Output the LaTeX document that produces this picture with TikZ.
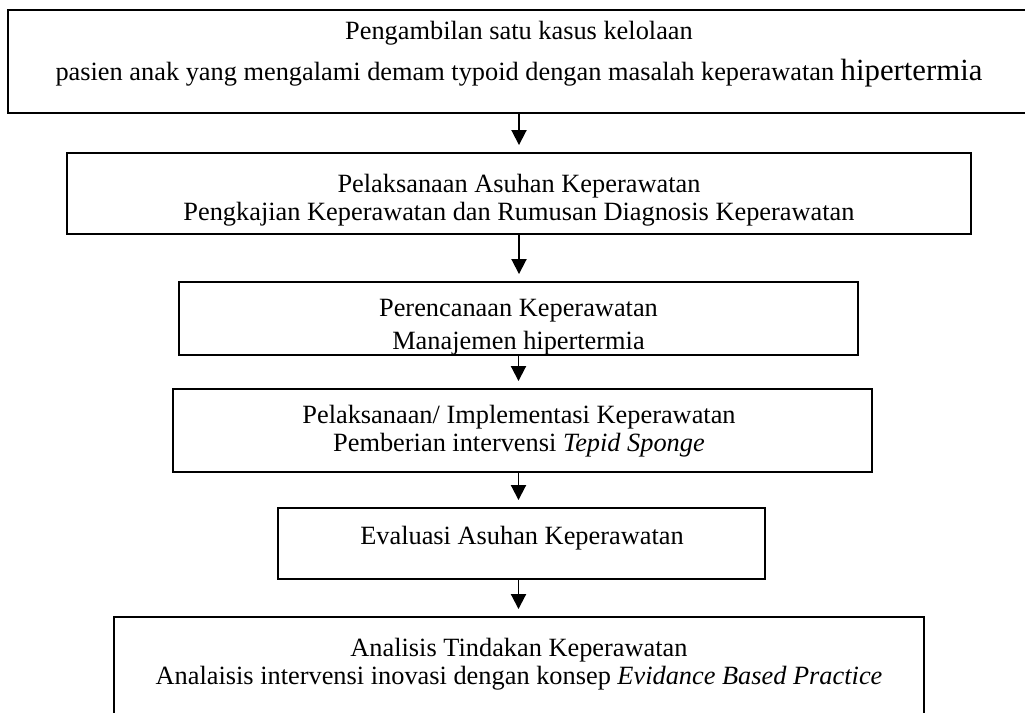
\documentclass[tikz,border=0pt]{standalone}
\usepackage{fontspec}
\setmainfont{Liberation Serif}
\usetikzlibrary{arrows.meta}

\begin{document}
\begin{tikzpicture}[
  x=0.02cm, y=-0.02cm,
  box/.style={rectangle, draw=black, line width=1.1pt, inner sep=0pt},
  txt/.style={align=center, font=\fontsize{15}{16}\selectfont, inner sep=0pt},
  arr/.style={-{Triangle[width=0.3cm,length=0.3cm]}, line width=1.1pt,
    shorten >=0.14cm}
]
  \clip (0,0) rectangle (1025,713);
  % kotak-kotak alur
  \node[box, minimum width=20.44cm, minimum height=2.06cm] (b1) at (519,61.5) {};
  \node[box, minimum width=18.08cm, minimum height=1.62cm] (b2) at (519,193.5) {};
  \node[box, minimum width=13.58cm, minimum height=1.46cm] (b3) at (518.5,318.5) {};
  \node[box, minimum width=13.98cm, minimum height=1.66cm] (b4) at (522.5,430.5) {};
  \node[box, minimum width=9.74cm, minimum height=1.42cm] (b5) at (521.5,543.5) {};
  \node[box, minimum width=16.2cm, minimum height=2.46cm] (b6) at (519,678.5) {};
  % teks
  \node[txt] (t1) at (519,54) {Pengambilan satu kasus kelolaan\\[7pt]
    pasien anak yang mengalami demam typoid dengan masalah keperawatan
    {\fontsize{17.5}{18}\selectfont hipertermia}};
  \node[txt] (t2) at (519,200.5) {Pelaksanaan Asuhan Keperawatan\\
    Pengkajian Keperawatan dan Rumusan Diagnosis Keperawatan};
  \begin{scope}
    \clip (b3.south west) rectangle (b3.north east);
    \node[txt] (t3) at (518.5,327) {Perencanaan Keperawatan\\[3pt]
      Manajemen hipertermia};
  \end{scope}
  \node[txt] (t4) at (519,431) {Pelaksanaan/ Implementasi Keperawatan\\
    Pemberian intervensi \textit{Tepid Sponge}};
  \node[txt] (t5) at (522,538) {Evaluasi Asuhan Keperawatan};
  \node[txt] (t6) at (519,664.5) {Analisis Tindakan Keperawatan\\
    Analaisis intervensi inovasi dengan konsep \textit{Evidance Based Practice}};
  % panah
  \draw[arr] (b1.south -| b2.north) -- (b2.north);
  \draw[arr] (b2.south) -- (b2.south |- b3.north);
  \draw[arr] (b3.south) -- (b3.south |- b4.north);
  \draw[arr] (b3.south |- b4.south) -- (b3.south |- b5.north);
  \draw[arr] (b3.south |- b5.south) -- (b3.south |- b6.north);
\end{tikzpicture}
\end{document}
